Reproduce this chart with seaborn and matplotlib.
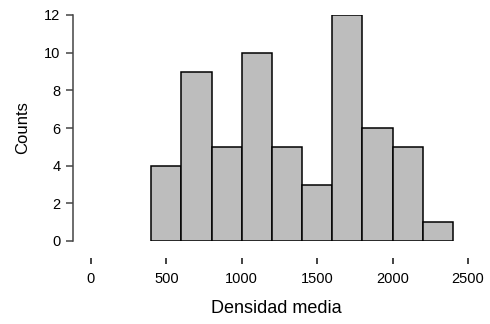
import numpy as np
import seaborn as sns
import matplotlib.pyplot as plt

# bin edges and counts
bin_edges = [400, 600, 800, 1000, 1200, 1400, 1600, 1800, 2000, 2200, 2400]
counts = [4, 9, 5, 10, 5, 3, 12, 6, 5, 1]
x_ticks = [0, 500, 1000, 1500, 2000, 2500]
y_ticks = [0, 2, 4, 6, 8, 10, 12]

centers = [(a + b) / 2 for a, b in zip(bin_edges[:-1], bin_edges[1:])]

sns.set_style("white")
plt.rcParams["font.family"] = ["Liberation Sans", "DejaVu Sans"]
plt.rcParams["text.color"] = "black"
plt.rcParams["axes.labelcolor"] = "black"
plt.rcParams["xtick.color"] = "black"
plt.rcParams["ytick.color"] = "black"

fig = plt.figure(figsize=(4.9, 3.24), dpi=100)
ax = fig.add_axes([73 / 490, 83 / 324, 407 / 490, 226 / 324])

sns.histplot(
    x=centers,
    weights=counts,
    bins=bin_edges,
    color="#bdbdbd",
    edgecolor="black",
    linewidth=1.1,
    alpha=1,
    ax=ax,
)

ax.set_xlim(-119, 2580)
ax.set_ylim(0, 12)
ax.set_xticks(x_ticks)
ax.set_yticks(y_ticks)

# R-like detached axes
for side in ["top", "right"]:
    ax.spines[side].set_visible(False)
ax.spines["bottom"].set_position(("outward", 12))
ax.spines["bottom"].set_visible(False)
ax.spines["left"].set_color("#444444")
ax.spines["left"].set_linewidth(1.1)

ax.tick_params(axis="x", direction="out", length=4.5, width=1.2, color="#222222",
               pad=6, labelsize=10.5, bottom=True)
ax.tick_params(axis="y", direction="out", length=5, width=1.1, color="#444444",
               pad=4, labelsize=10.5, left=True)

ax.set_xlabel("Densidad media", fontsize=13, labelpad=10)
ax.set_ylabel("Counts", fontsize=12, labelpad=10)

fig.savefig("out.png", dpi=100)
